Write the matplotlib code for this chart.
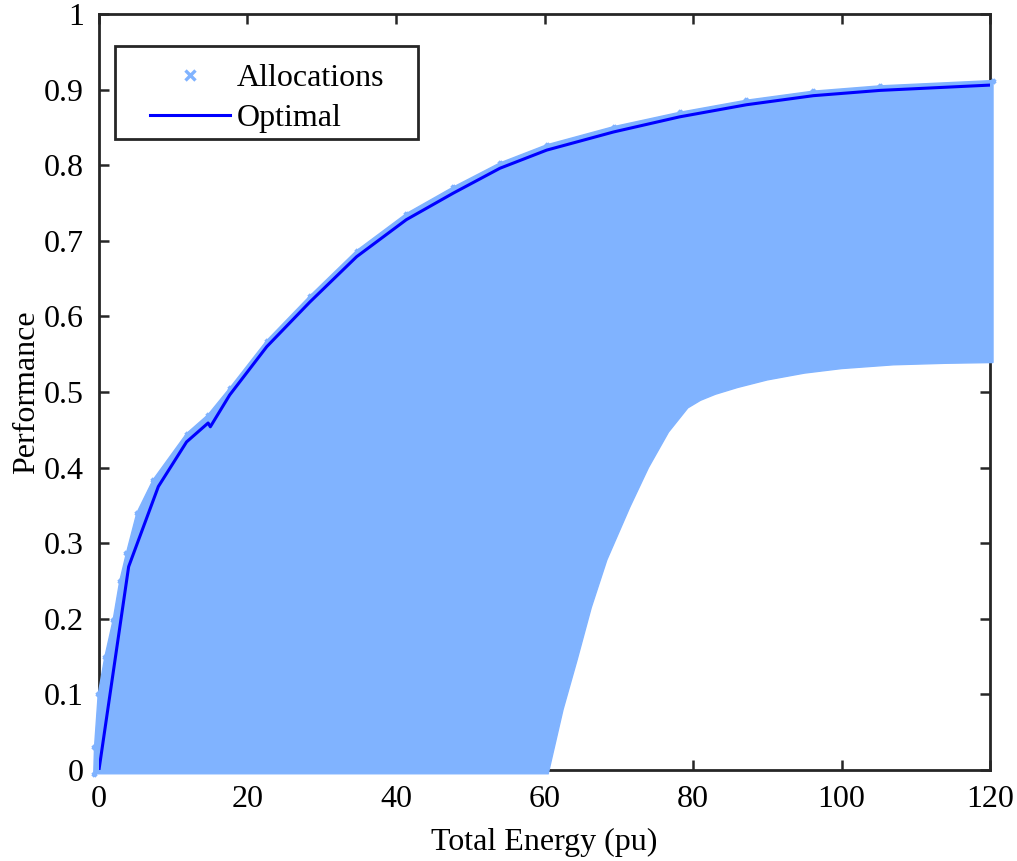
"""
Energy vs performance: feasible allocations and the optimal frontier.
"""

import numpy as np
import matplotlib
matplotlib.use("Agg")
import matplotlib.pyplot as plt
from matplotlib.legend_handler import HandlerLine2D


# optimal allocation curve
opt_energy = [0, 4.0, 8.0, 11.8, 14.7, 15.0, 17.6, 22.6, 28.4, 34.7, 41.4,
              47.7, 54.0, 60.3, 69.3, 78.2, 87.2, 96.2, 105.2, 120]
opt_perf = [0, 0.269, 0.375, 0.434, 0.459, 0.454, 0.496, 0.560, 0.619, 0.679,
            0.728, 0.763, 0.796, 0.820, 0.844, 0.864, 0.880, 0.892, 0.899, 0.906]

# outline of the cloud of all allocations (upper edge, left to right)
alloc_top_energy = [-0.7, -0.6, -0.1, 0.8, 1.9, 2.8, 3.7, 5.1, 7.3, 11.8, 14.7,
                    17.6, 22.6, 28.4, 34.7, 41.4, 47.7, 54.0, 60.3, 69.3,
                    78.2, 87.2, 96.2, 105.2, 120.4]
alloc_top_perf = [-0.005, 0.03, 0.10, 0.15, 0.198, 0.25, 0.287, 0.34, 0.384,
                  0.445, 0.47, 0.505, 0.568, 0.627, 0.687, 0.736, 0.771,
                  0.803, 0.827, 0.851, 0.870, 0.886, 0.898, 0.905, 0.912]

# lower edge, right to left
alloc_low_energy = [120.4, 114.0, 107.0, 100.0, 95.0, 90.0, 86.0, 83.0, 81.0,
                    79.3, 76.7, 74.0, 71.5, 68.4, 66.3, 64.4, 62.5, 60.5, -0.7]
alloc_low_perf = [0.539, 0.538, 0.536, 0.531, 0.525, 0.516, 0.506, 0.497, 0.489,
                  0.479, 0.447, 0.400, 0.348, 0.278, 0.215, 0.146, 0.080,
                  -0.005, -0.005]

X_TICKS = [0, 20, 40, 60, 80, 100, 120]
Y_TICKS = [0, 0.1, 0.2, 0.3, 0.4, 0.5, 0.6, 0.7, 0.8, 0.9, 1]
Y_TICK_LABELS = ["0", "0.1", "0.2", "0.3", "0.4", "0.5", "0.6", "0.7", "0.8", "0.9", "1"]

ALLOC_COLOR = "#80b3ff"
OPT_COLOR = "#0000ff"
AX_COLOR = "#262626"
FONT_SIZE = 23

plt.rcParams["font.family"] = ["Liberation Serif", "DejaVu Serif"]


def main():
    fig = plt.figure(figsize=(10.17, 8.61), dpi=100)
    ax = fig.add_axes([0.0973, 0.1057, 0.8762, 0.8780])

    # allocation cloud
    poly_x = alloc_top_energy + alloc_low_energy
    poly_y = alloc_top_perf + alloc_low_perf
    ax.fill(poly_x, poly_y, color=ALLOC_COLOR, lw=1.0, zorder=3, clip_on=False)
    ax.plot(alloc_top_energy, alloc_top_perf, ls="none", marker="x", ms=3.5,
            mew=2.4, color=ALLOC_COLOR, zorder=3, clip_on=False, label="Allocations")

    ax.plot(opt_energy, opt_perf, color=OPT_COLOR, lw=2.2, zorder=4, label="Optimal")

    ax.set_xlim(0, 120)
    ax.set_ylim(0, 1)
    ax.set_xticks(X_TICKS)
    ax.set_yticks(Y_TICKS)
    ax.set_yticklabels(Y_TICK_LABELS)

    ax.tick_params(direction="in", length=7, width=1.8, top=True, right=True,
                   labelsize=FONT_SIZE, colors=AX_COLOR, labelcolor="black", pad=11)
    for side in ax.spines.values():
        side.set_linewidth(2.0)
        side.set_color(AX_COLOR)

    ax.set_xlabel("Total Energy (pu)", fontsize=FONT_SIZE, labelpad=10)
    ax.set_ylabel("Performance", fontsize=FONT_SIZE, labelpad=2)

    handler = HandlerLine2D(xpad=0.9)
    leg = ax.legend(loc="upper left", bbox_to_anchor=(0.018, 0.838, 0.340, 0.12),
                    mode="expand", borderaxespad=0, fontsize=FONT_SIZE, frameon=True,
                    fancybox=False, handlelength=3.4, handletextpad=0.22,
                    labelspacing=0.33, borderpad=0.2, markerscale=2.1,
                    title=" ", title_fontsize=1,
                    handler_map={plt.Line2D: handler})
    leg.get_frame().set_edgecolor(AX_COLOR)
    leg.get_frame().set_linewidth(2.0)
    leg.get_frame().set_alpha(1)

    fig.savefig("out.png", dpi=100)
    plt.close(fig)


if __name__ == "__main__":
    main()
